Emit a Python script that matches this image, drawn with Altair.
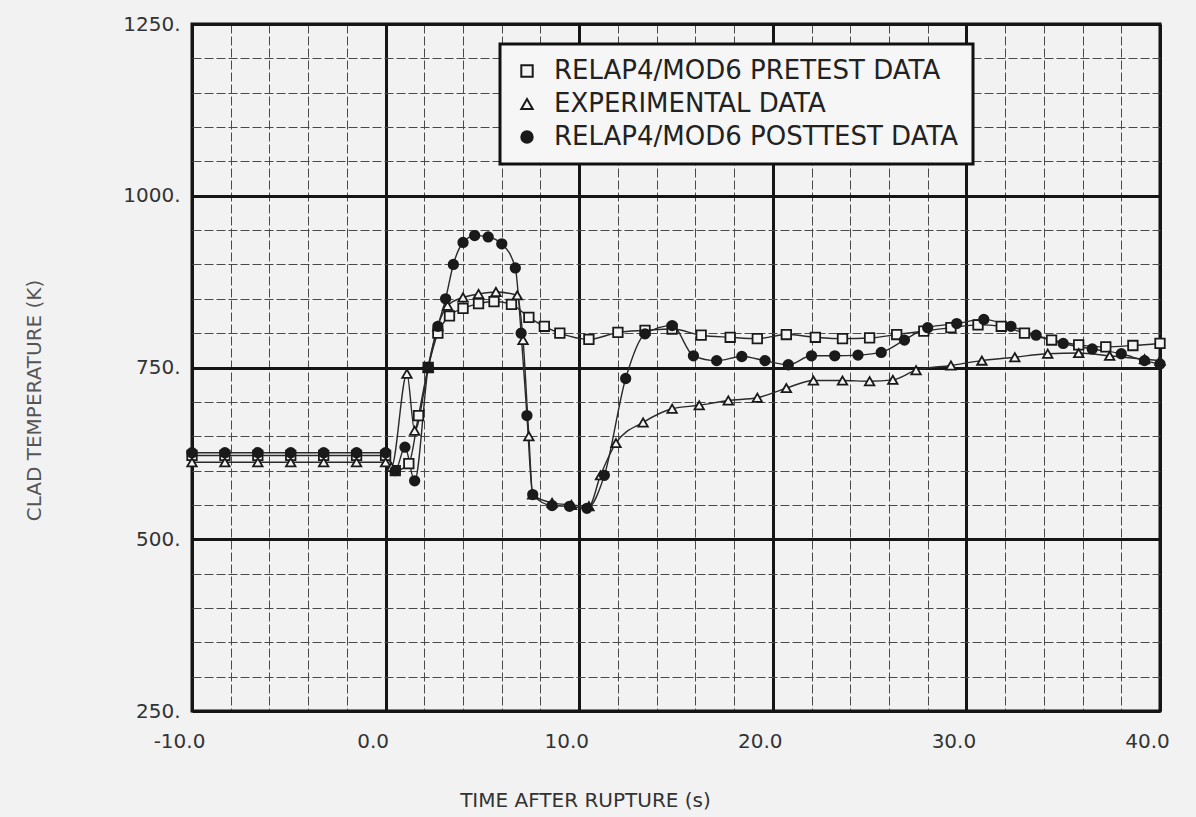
import altair as alt
import pandas as pd

# ---- data ----
series_names = ["RELAP4/MOD6 PRETEST DATA", "EXPERIMENTAL DATA", "RELAP4/MOD6 POSTTEST DATA"]

pre_t = [-10.0, -8.3, -6.6, -4.9, -3.2, -1.5, 0.0, 0.5, 1.2, 1.7, 2.2, 2.7, 3.3, 4.0, 4.8, 5.6,
         6.5, 7.4, 8.2, 9.0, 10.5, 12.0, 13.4, 14.8, 16.3, 17.8, 19.2, 20.7, 22.2, 23.6, 25.0,
         26.4, 27.8, 29.2, 30.6, 31.8, 33.0, 34.4, 35.8, 37.2, 38.6, 40.0]
pre_y = [622, 622, 622, 622, 622, 622, 622, 600, 610, 680, 750, 800, 825, 836, 843, 846,
         842, 823, 810, 800, 791, 801, 804, 806, 797, 794, 792, 798, 794, 792, 793,
         798, 803, 808, 812, 810, 800, 790, 783, 780, 782, 785]

exp_t = [-10.0, -8.3, -6.6, -4.9, -3.2, -1.5, 0.0, 0.3, 1.1, 1.5, 2.2, 2.7, 3.2, 4.0, 4.8, 5.7,
         6.8, 7.1, 7.4, 7.6, 8.6, 9.6, 10.5, 11.1, 11.9, 13.3, 14.8, 16.2, 17.7, 19.2, 20.7,
         22.1, 23.6, 25.0, 26.2, 27.4, 29.2, 30.8, 32.5, 34.2, 35.8, 37.4, 39.2, 40.0]
exp_y = [612, 612, 612, 612, 612, 612, 612, 605, 741, 658, 750, 810, 840, 852, 857, 860,
         855, 790, 650, 565, 553, 550, 548, 593, 640, 670, 690, 695, 702, 706, 720,
         731, 731, 730, 732, 746, 753, 760, 765, 770, 771, 767, 762, 760]

post_t = [-10.0, -8.3, -6.6, -4.9, -3.2, -1.5, 0.0, 0.5, 1.0, 1.5, 2.2, 2.7, 3.1, 3.5, 4.0, 4.6,
          5.3, 6.0, 6.7, 7.0, 7.3, 7.6, 8.6, 9.5, 10.4, 11.3, 12.4, 13.4, 14.8, 15.9, 17.1,
          18.4, 19.6, 20.8, 22.0, 23.2, 24.4, 25.6, 26.8, 28.0, 29.5, 30.9, 32.3, 33.6, 35.0,
          36.5, 38.0, 39.2, 40.0]
post_y = [626, 626, 626, 626, 626, 626, 626, 600, 634, 585, 750, 810, 850, 900, 932, 942,
          940, 930, 895, 800, 680, 565, 549, 548, 545, 593, 734, 799, 811, 767, 760,
          766, 760, 754, 767, 767, 768, 772, 790, 808, 814, 820, 810, 797, 785,
          777, 770, 760, 755]

x_ticks = list(range(-10, 41, 2))
y_ticks = list(range(250, 1251, 50))

shapes = ["square", "triangle-up", "circle"]
fills = ["#f4f4f4", "#f4f4f4", "#1a1a1a"]
strokes = ["#1a1a1a", "#1a1a1a", "#1a1a1a"]

rows = []
for name, ts, ys in zip(series_names, [pre_t, exp_t, post_t], [pre_y, exp_y, post_y]):
    for t, y in zip(ts, ys):
        rows.append({"series": name, "t": t, "temp": y})
df = pd.DataFrame(rows)

FONT = "DejaVu Sans"
TXT = "#333333"

x_axis = alt.Axis(
    values=x_ticks,
    labelExpr="datum.value % 10 === 0 ? (datum.value < 0 ? '-' : '') + format(abs(datum.value), '.1f') : ''",
    labelFont=FONT, labelFontSize=20, labelColor=TXT, labelPadding=20, labelOffset=-13,
    labelFlush=False, labelOverlap=False,
    ticks=False, domain=False,
    grid=True,
    gridColor={"condition": {"test": "datum.value % 10 === 0", "value": "#151515"}, "value": "#4a4a4a"},
    gridWidth={"condition": {"test": "datum.value % 10 === 0", "value": 3}, "value": 1},
    gridDash={"condition": {"test": "datum.value % 10 === 0", "value": []}, "value": [9, 3]},
    title="TIME AFTER RUPTURE (s)", titleFont=FONT, titleFontSize=20, titleFontWeight="normal",
    titleColor=TXT, titleX=393, titleY=89, titleAlign="center", titleBaseline="middle",
)

y_axis = alt.Axis(
    values=y_ticks,
    labelExpr="datum.value % 250 === 0 ? datum.value + '.' : ''",
    labelFont=FONT, labelFontSize=20, labelColor=TXT, labelPadding=12,
    labelFlush=False, labelOverlap=False,
    ticks=False, domain=False,
    grid=True,
    gridColor={"condition": {"test": "datum.value % 250 === 0", "value": "#151515"}, "value": "#4a4a4a"},
    gridWidth={"condition": {"test": "datum.value % 250 === 0", "value": 3}, "value": 1},
    gridDash={"condition": {"test": "datum.value % 250 === 0", "value": []}, "value": [9, 3]},
    title="CLAD TEMPERATURE (K)", titleFont=FONT, titleFontSize=20, titleFontWeight="normal",
    titleColor="#555555", titleX=-158, titleY=376, titleAlign="center", titleBaseline="middle",
    titleAngle=270,
)

x_enc = alt.X("t:Q", scale=alt.Scale(domain=[-10, 40], nice=False, zero=False), axis=x_axis)
y_enc = alt.Y("temp:Q", scale=alt.Scale(domain=[250, 1250], nice=False, zero=False), axis=y_axis)

leg = alt.Legend(
    title=None, orient="none", legendX=308, legendY=20, direction="vertical",
    labelFont=FONT, labelFontSize=26, labelColor="#222222", labelOffset=14,
    symbolSize=130, symbolStrokeWidth=2,
    padding=14, rowPadding=7, fillColor="#f6f6f6", strokeColor="#111111",
    labelLimit=800,
)

lines = alt.Chart(df).mark_line(color="#2a2a2a", strokeWidth=1.4, interpolate="monotone").encode(
    x=x_enc, y=y_enc, detail="series:N"
)

points = alt.Chart(df).mark_point(filled=True, strokeWidth=1.8, size=90, opacity=1).encode(
    x=x_enc, y=y_enc,
    shape=alt.Shape("series:N", scale=alt.Scale(domain=series_names, range=shapes), legend=leg),
    fill=alt.Fill("series:N", scale=alt.Scale(domain=series_names, range=fills), legend=leg),
    stroke=alt.Stroke("series:N", scale=alt.Scale(domain=series_names, range=strokes), legend=leg),
)

chart = alt.layer(lines, points).properties(
    width=968, height=687,
    padding={"left": 192, "top": 24, "right": 36, "bottom": 106},
    autosize=alt.AutoSizeParams(type="none"),
    background="#f2f2f2",
).configure_view(
    stroke="#111111", strokeWidth=3
).configure_legend(
    strokeWidth=3
)

chart.save("out.html", embed_options={"renderer": "svg", "actions": False})
